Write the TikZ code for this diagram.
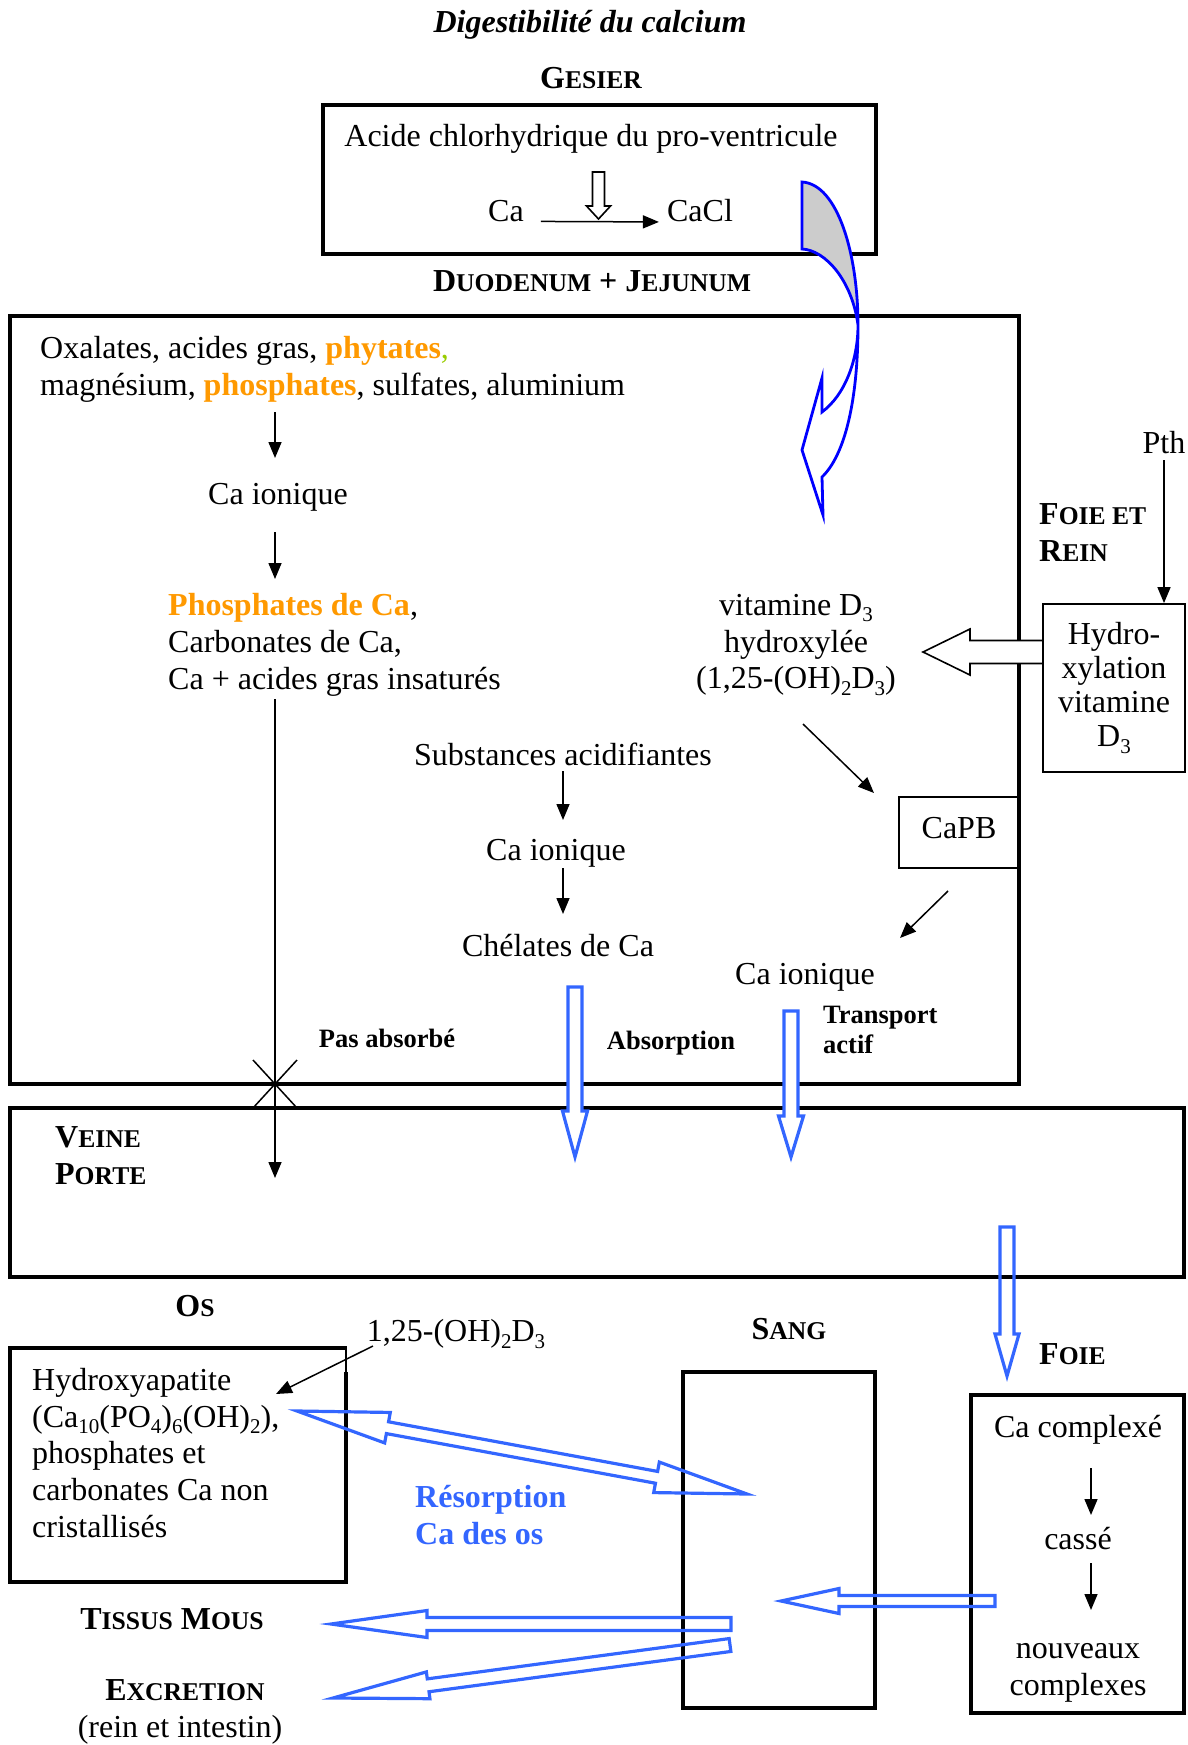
\documentclass[tikz,border=0pt]{standalone}
\usepackage{fontspec}
\setmainfont{Liberation Serif}
\usetikzlibrary{calc,arrows.meta}
\definecolor{ora}{RGB}{255,153,0}
\definecolor{grn}{RGB}{153,204,0}
\definecolor{blu}{RGB}{51,102,255}
\definecolor{cblue}{RGB}{0,0,255}
\definecolor{cgray}{RGB}{204,204,204}
\newcommand\mysub[1]{\raisebox{-0.2em}{\fontsize{21}{21}\selectfont #1}}
\newcommand\mysc[1]{{\fontsize{25.6}{25.6}\selectfont #1}}
\newcommand\hollowarr[6]{%
  \coordinate (hh) at ($(#3)!#6!(#2)$);
  \draw[#1] ($(#2)!#4!90:(#3)$) -- ($(hh)!#4!90:(#3)$) -- ($(hh)!#5!90:(#3)$) -- (#3)
    -- ($(hh)!#5!-90:(#3)$) -- ($(hh)!#4!-90:(#3)$) -- ($(#2)!#4!-90:(#3)$) -- cycle;}
\newcommand\hollowdbl[6]{%
  \coordinate (ha) at ($(#2)!#6!(#3)$);
  \coordinate (hb) at ($(#3)!#6!(#2)$);
  \draw[#1] (#2) -- ($(ha)!#5!90:(#3)$) -- ($(ha)!#4!90:(#3)$) -- ($(hb)!#4!90:(#3)$)
    -- ($(hb)!#5!90:(#3)$) -- (#3) -- ($(hb)!#5!-90:(#3)$) -- ($(hb)!#4!-90:(#3)$)
    -- ($(ha)!#4!-90:(#3)$) -- ($(ha)!#5!-90:(#3)$) -- cycle;}
\begin{document}
\begin{tikzpicture}[x=1pt,y=-1pt,
  txt/.style={font=\fontsize{32}{36.8}\selectfont, inner sep=0pt, align=left},
  ctxt/.style={font=\fontsize{32}{36.8}\selectfont, inner sep=0pt, align=center},
  hdr/.style={font=\fontsize{32}{37}\selectfont\bfseries, inner sep=0pt, align=left},
  sml/.style={font=\fontsize{26.5}{30}\selectfont\bfseries, inner sep=0pt, align=left},
  bigbox/.style={draw, line width=3.4pt, inner sep=0pt},
  smallbox/.style={draw, line width=1.8pt, inner sep=0pt},
  arr/.style={-{Triangle[length=16pt,width=13pt]}, line width=1.5pt},
  blueh/.style={draw=blu, line width=3.2pt, line join=miter},
  blackh/.style={draw=black, line width=1.6pt, fill=white, line join=miter}]

\useasboundingbox (0,0) rectangle (1187,1745);

% ---------- title
\node[hdr, font=\fontsize{32}{37}\selectfont\bfseries\itshape] (title) at (590,25) {Digestibilité du calcium};

% ---------- gesier
\node[hdr] (gesierlbl) at (591,78) {G\mysc{ESIER}};
\node[bigbox, minimum width=553pt, minimum height=149pt] (gesier) at (599.5,179.5) {};
\node[txt] (acide) at (591,139) {Acide chlorhydrique du pro-ventricule};
\node[txt] (ca0) at (506,211) {Ca};
\node[txt] (cacl) at (700,211) {CaCl};
\coordinate (hcl1) at (598.5,172);
\coordinate (hcl2) at (598.5,219);
\hollowarr{blackh}{hcl1}{hcl2}{6pt}{12pt}{13pt}
\draw[arr] ([xshift=17pt]ca0.base east) -- ([xshift=-8pt]cacl.base west);

% ---------- duodenum
\node[hdr] (duolbl) at (592,281) {D\mysc{UODENUM} + J\mysc{EJUNUM}};
\node[bigbox, minimum width=1009pt, minimum height=768pt] (duo) at (514.5,700) {};

% curved arrow
\coordinate (cA) at (802,182);
\coordinate (cB) at (802,249);
\coordinate (cT) at (858,325);
\coordinate (cO) at (822,477);
\coordinate (cI) at (822,412);
\coordinate (cBarb) at (822,378);
\coordinate (cL) at (802,450);
\coordinate (cTip) at (823,515);
\fill[cgray] (cA) .. controls (838,184) and (858,255) .. (cT) .. controls (852,280) and (825,250) .. (cB) -- cycle;
\draw[cblue, line width=2.8pt, line join=miter] (cA) .. controls (838,184) and (858,255) .. (cT)
  .. controls (858,400) and (845,455) .. (cO) -- (cTip) -- (cL) -- (cBarb) -- (cI)
  .. controls (845,395) and (858,360) .. (cT) .. controls (852,280) and (825,250) .. (cB) -- cycle;

% left column
\node[txt, anchor=west] (oxal) at (40,369) {Oxalates, acides gras, \textcolor{ora}{\textbf{phytates}}\textcolor{grn}{,}\\magnésium, \textcolor{ora}{\textbf{phosphates}}, sulfates, aluminium};
\node[txt] (caion1) at (278,497) {Ca ionique};
\node[txt, anchor=west] (phos) at (168,645) {\textcolor{ora}{\textbf{Phosphates de Ca}},\\Carbonates de Ca,\\Ca + acides gras insaturés};
\coordinate (a1s) at (275,412); \coordinate (a1e) at (275,458);
\coordinate (a2s) at (275,532); \coordinate (a2e) at (275,579);
\draw[arr] (a1s) -- (a1e);
\draw[arr] (a2s) -- (a2e);
\coordinate (ls) at (275,699); \coordinate (le) at (275,1178);
\draw[arr] (ls) -- (le);
\coordinate (xc) at (275,1084);
\node[sml] (pasabs) at (387,1038) {Pas absorbé};

% middle column
\node[txt] (subst) at (563,754) {Substances acidifiantes};
\node[txt] (caion2) at (556,853) {Ca ionique};
\node[txt] (chel) at (558,946) {Chélates de Ca};
\coordinate (m1s) at (563,771); \coordinate (m1e) at (563,820);
\coordinate (m2s) at (563,868); \coordinate (m2e) at (563,914);
\draw[arr] (m1s) -- (m1e);
\draw[arr] (m2s) -- (m2e);
\node[sml] (absorp) at (671,1043) {Absorption};

% right part
\node[ctxt] (vitd) at (796,645) {vitamine D\mysub{3}\\hydroxylée\\(1,25-(OH)\mysub{2}D\mysub{3})};
\node[smallbox, font=\fontsize{32}{36.8}\selectfont, text depth=9pt, minimum width=120pt, minimum height=71pt] (capb) at (959,832.5) {CaPB};
\node[txt] (caion3) at (805,977) {Ca ionique};
\node[sml, anchor=west] (transp) at (823,1030) {Transport\\actif};
\coordinate (d1s) at (803,724); \coordinate (d1e) at (874,793);
\coordinate (d2s) at (948,891); \coordinate (d2e) at (900,938);
\draw[arr] (d1s) -- (d1e);
\draw[arr] (d2s) -- (d2e);

% foie et rein
\node[hdr, anchor=west] (foieet) at (1039,532.5) {F\mysc{OIE ET}\\R\mysc{EIN}};
\node[txt] (pth) at (1164,443) {Pth};
\node[smallbox, font=\fontsize{32}{34}\selectfont, align=center, minimum width=142pt, minimum height=168pt] (hydro) at (1114,688) {Hydro-\\xylation\\vitamine\\D\mysub{3}};
\draw[arr] ([yshift=-6pt]pth.south) -- (hydro.north -| pth.south);
\coordinate (hy1) at (1043,652); \coordinate (hy2) at (923,652);
\hollowarr{blackh}{hy1}{hy2}{11.5pt}{23pt}{47pt}

% ---------- veine porte
\node[bigbox, minimum width=1174pt, minimum height=169pt] (veine) at (597,1192.5) {};
\node[hdr, anchor=west] (veinelbl) at (55,1156) {V\mysc{EINE}\\P\mysc{ORTE}};
\draw[line width=1.5pt] ($(xc)+(-22,-24)$) -- ($(xc)+(22,24)$) ($(xc)+(22,-24)$) -- ($(xc)+(-22,24)$);

\coordinate (ab1) at (575,987); \coordinate (ab2) at (575,1157);
\hollowarr{blueh, fill=white}{ab1}{ab2}{7pt}{12.5pt}{46pt}
\coordinate (tr1) at (791,1011); \coordinate (tr2) at (791,1157);
\hollowarr{blueh, fill=white}{tr1}{tr2}{7pt}{12.5pt}{41pt}

% ---------- bottom
\node[hdr] (oslbl) at (195,1306) {O\mysc{S}};
\node[hdr] (sanglbl) at (789,1329) {S\mysc{ANG}};
\node[hdr, anchor=west] (foielbl) at (1039,1354) {F\mysc{OIE}};
\node[txt] (d3lbl) at (456,1334) {1,25-(OH)\mysub{2}D\mysub{3}};

% os box
\draw[line width=3.4pt] (346,1372) -- (346,1582) -- (10,1582) -- (10,1348) -- (347,1348);
\draw[line width=1.5pt] (346,1348) -- (346,1372);
\node[txt, anchor=west] (ostxt) at (32,1453) {Hydroxyapatite\\(Ca\mysub{10}(PO\mysub{4})\mysub{6}(OH)\mysub{2}),\\phosphates et\\carbonates Ca non\\cristallisés};
\coordinate (o1s) at (373,1346); \coordinate (o1e) at (276,1394);
\draw[arr] (o1s) -- (o1e);

% sang and foie boxes
\node[bigbox, minimum width=192pt, minimum height=336pt] (sang) at (779,1540) {};
\node[bigbox, minimum width=213pt, minimum height=318pt] (foie) at (1077.5,1554) {};
\node[txt] (cacomp) at (1078,1430) {Ca complexé};
\node[txt] (casse) at (1078,1539) {cassé};
\node[ctxt] (nouv) at (1078,1673) {nouveaux\\complexes};
\coordinate (f1s) at (1091,1468); \coordinate (f1e) at (1091,1515);
\coordinate (f2s) at (1091,1563); \coordinate (f2e) at (1091,1610);
\draw[arr] (f1s) -- (f1e);
\draw[arr] (f2s) -- (f2e);

\node[font=\fontsize{32}{37}\selectfont\bfseries, text=blu, inner sep=0pt, align=left, anchor=west] (resorp) at (415,1515.5) {Résorption\\Ca des os};
\node[hdr] (tissus) at (172,1619) {T\mysc{ISSUS} M\mysc{OUS}};
\node[hdr] (excr) at (185,1690) {E\mysc{XCRETION}};
\node[txt] (rein) at (180,1730) {(rein et intestin)};

% blue arrows
\coordinate (vf1) at (1007,1227); \coordinate (vf2) at (1007,1376);
\hollowarr{blueh}{vf1}{vf2}{7pt}{12pt}{42pt}
\coordinate (fs1) at (995,1601); \coordinate (fs2) at (781,1601);
\hollowarr{blueh}{fs1}{fs2}{5.5pt}{12.5pt}{58pt}
\coordinate (ti1) at (731,1624); \coordinate (ti2) at (331,1624);
\hollowarr{blueh}{ti1}{ti2}{6.5pt}{13.5pt}{96pt}
\coordinate (ex1) at (730,1645); \coordinate (ex2) at (333,1698);
\hollowarr{blueh}{ex1}{ex2}{6.5pt}{13.5pt}{96pt}
\coordinate (os1) at (297,1411); \coordinate (os2) at (747,1494);
\hollowdbl{blueh}{os1}{os2}{6pt}{15.5pt}{92pt}

\end{tikzpicture}
\end{document}
